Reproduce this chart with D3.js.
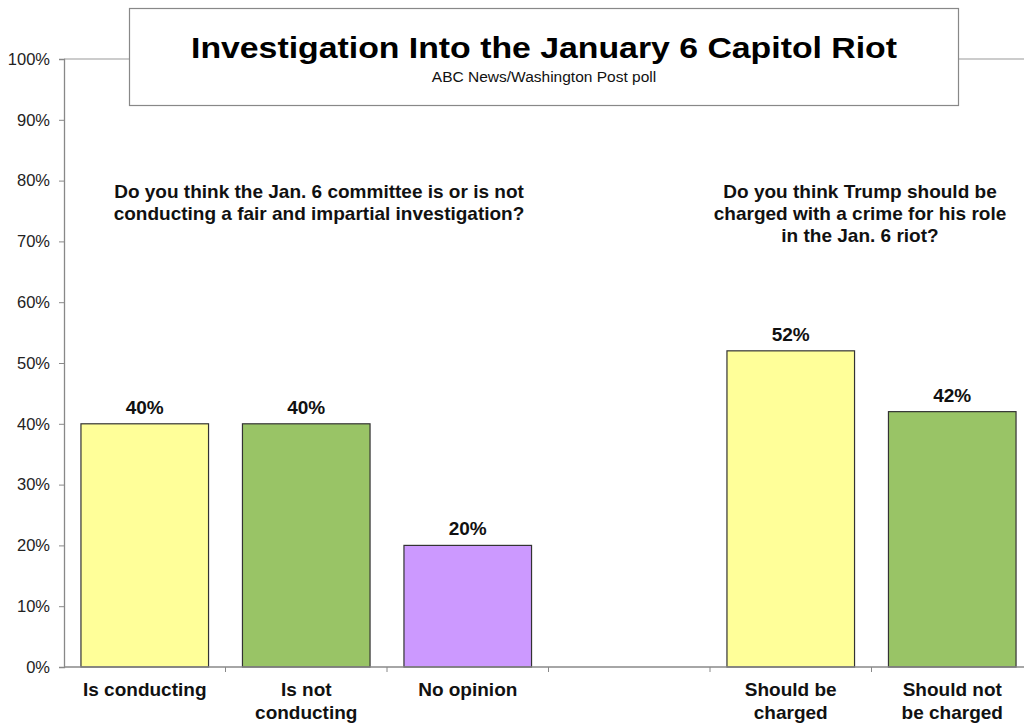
<!DOCTYPE html>
<html>
<head>
<meta charset="utf-8">
<script src="https://cdn.jsdelivr.net/npm/d3@7"></script>
<style>
  body { margin: 0; background: #fff; }
  svg { font-family: "Liberation Sans", Arial, sans-serif; }
  .tick text { font-size: 16.5px; fill: #222; }
</style>
</head>
<body>
<div id="chart"></div>
<script>
// Data
var categories = ["Is conducting", "Is not conducting", "No opinion", "gap", "Should be charged", "Should not be charged"];
var catLines = [["Is conducting"], ["Is not", "conducting"], ["No opinion"], [], ["Should be", "charged"], ["Should not", "be charged"]];
var values = [40, 40, 20, null, 52, 42];
var barColors = ["#ffff99", "#99c466", "#cc99ff", "none", "#ffff99", "#99c466"];
var yTicks = [0, 10, 20, 30, 40, 50, 60, 70, 80, 90, 100];

var svgWidth = 1024, svgHeight = 725;
var margin = { top: 59, right: -9, bottom: 58, left: 64 };
var width = svgWidth - margin.left - margin.right;
var height = svgHeight - margin.top - margin.bottom;

var svg = d3.select("#chart").append("svg")
  .attr("width", svgWidth).attr("height", svgHeight);

var g = svg.append("g").attr("transform", `translate(${margin.left},${margin.top})`);

var x = d3.scaleBand().domain(categories).range([0, width]).padding(0);
var y = d3.scaleLinear().domain([0, 100]).range([height, 0]);
var barW = x.bandwidth() * 0.79;

// top frame line at 100%
g.append("line")
  .attr("x1", 0).attr("x2", width).attr("y1", y(100)).attr("y2", y(100))
  .attr("stroke", "#999").attr("stroke-width", 1.2);

// y axis
var yAxis = g.append("g")
  .call(d3.axisLeft(y).tickValues(yTicks).tickSize(5).tickPadding(9).tickFormat(d => d + "%"));
yAxis.select(".domain").attr("stroke", "#888").attr("stroke-width", 1.3);
yAxis.selectAll(".tick line").attr("stroke", "#888");

// bars
var data = categories.map((c, i) => ({ cat: c, v: values[i], color: barColors[i], lines: catLines[i] }));
var barData = data.filter(d => d.v !== null);

g.selectAll("rect.bar").data(barData).enter().append("rect")
  .attr("class", "bar")
  .attr("x", d => x(d.cat) + (x.bandwidth() - barW) / 2)
  .attr("y", d => y(d.v))
  .attr("width", barW)
  .attr("height", d => y(0) - y(d.v))
  .attr("fill", d => d.color)
  .attr("stroke", "#333").attr("stroke-width", 1.2);

// value labels
g.selectAll("text.val").data(barData).enter().append("text")
  .attr("class", "val")
  .attr("x", d => x(d.cat) + x.bandwidth() / 2)
  .attr("y", d => y(d.v) - 10)
  .attr("text-anchor", "middle")
  .attr("font-size", 19).attr("font-weight", "bold").attr("fill", "#111")
  .text(d => d.v + "%");

// x axis line + boundary ticks
g.append("line")
  .attr("x1", 0).attr("x2", width).attr("y1", y(0)).attr("y2", y(0))
  .attr("stroke", "#888").attr("stroke-width", 1.3);
g.selectAll("line.xtick").data(categories.slice(1)).enter().append("line")
  .attr("class", "xtick")
  .attr("x1", d => x(d)).attr("x2", d => x(d))
  .attr("y1", y(0)).attr("y2", y(0) + 5)
  .attr("stroke", "#888");

// category labels
var catText = g.selectAll("text.cat").data(data).enter().append("text")
  .attr("class", "cat")
  .attr("text-anchor", "middle")
  .attr("font-size", 19).attr("font-weight", "bold").attr("fill", "#111")
  .attr("transform", d => `translate(${x(d.cat) + x.bandwidth() / 2},${y(0) + 29})`);
catText.selectAll("tspan").data(d => d.lines).enter().append("tspan")
  .attr("x", 0).attr("dy", (d, i) => i === 0 ? 0 : 23)
  .text(d => d);

// question texts
var q1 = ["Do you think the Jan. 6 committee is or is not", "conducting a fair and impartial investigation?"];
var q2 = ["Do you think Trump should be", "charged with a crime for his role", "in the Jan. 6 riot?"];
function question(lines, cx) {
  var t = g.append("text")
    .attr("text-anchor", "middle")
    .attr("font-size", 19).attr("font-weight", "bold").attr("fill", "#111")
    .attr("transform", `translate(${cx},${y(77.1)})`);
  t.selectAll("tspan").data(lines).enter().append("tspan")
    .attr("x", 0).attr("dy", (d, i) => i === 0 ? 0 : 22).text(d => d);
}
question(q1, 319 - margin.left);
question(q2, 860 - margin.left);

// title box
svg.append("rect")
  .attr("x", 129.5).attr("y", 8.5).attr("width", 829).attr("height", 97)
  .attr("fill", "#fff").attr("stroke", "#888").attr("stroke-width", 1.2);
svg.append("text")
  .attr("x", 544).attr("y", 58).attr("text-anchor", "middle")
  .attr("font-size", 30).attr("font-weight", "bold").attr("fill", "#000")
  .attr("textLength", 706).attr("lengthAdjust", "spacingAndGlyphs")
  .text("Investigation Into the January 6 Capitol Riot");
svg.append("text")
  .attr("x", 544).attr("y", 82).attr("text-anchor", "middle")
  .attr("font-size", 15.5).attr("fill", "#111")
  .text("ABC News/Washington Post poll");
</script>
</body>
</html>
